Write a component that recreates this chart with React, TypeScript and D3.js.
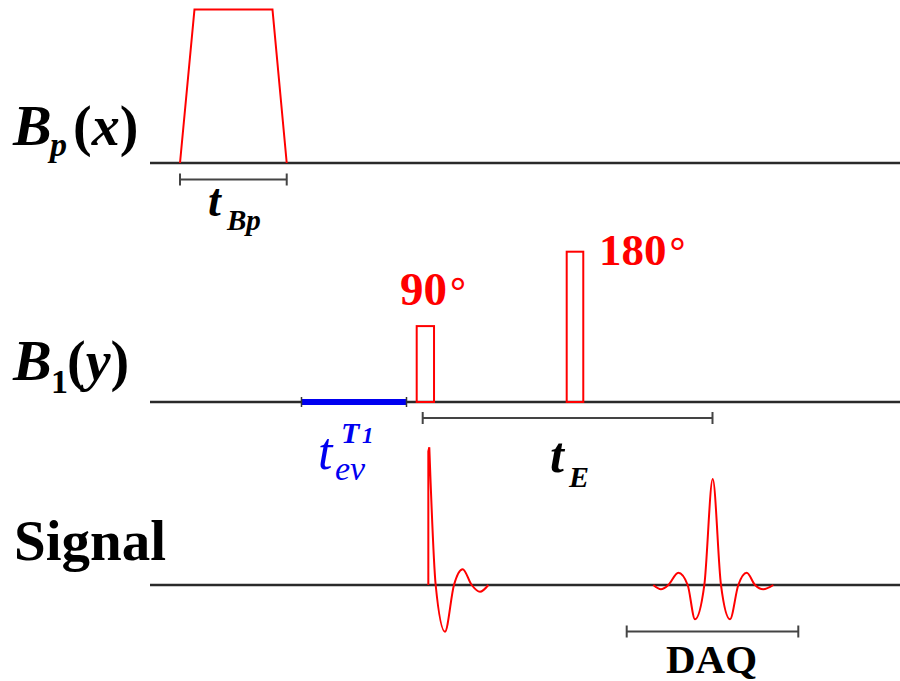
import React from "react";
import * as d3 from "d3";

// ---- data (time in arbitrary units, amplitudes normalised) ----
const channels = ["Bp(x)", "B1(y)", "Signal"];
// polarising field trapezoid: [time, amplitude]
const bpPulse: [number, number][] = [
  [4.0, 0],
  [5.93, 1],
  [16.33, 1],
  [18.23, 0],
];
// RF pulses: start, end, amplitude
const rfPulses = [
  { label: "90", t0: 35.56, t1: 37.87, amp: 0.505 },
  { label: "180", t0: 55.56, t1: 57.77, amp: 1.0 },
];
// evolution interval (blue)
const evolution: [number, number] = [20.2, 34.2];
// FID after the 90 pulse
const fidStart = 37.11;
const fid: [number, number][] = [
  [37.24, 1.0],
  [38.09, 0],
  [39.33, -0.339],
  [40.53, 0],
  [41.69, 0.114],
  [42.89, 0],
  [44.0, -0.049],
  [45.11, 0],
];
// spin echo
const echo: [number, number][] = [
  [67.11, 0],
  [68.13, -0.031],
  [69.11, 0],
  [70.44, 0.089],
  [71.69, 0],
  [72.67, -0.249],
  [73.91, 0],
  [75.03, 0.77],
  [76.13, 0],
  [77.33, -0.249],
  [78.44, 0],
  [79.56, 0.089],
  [80.67, 0],
  [81.77, -0.031],
  [83.11, 0],
];
// interval brackets
const tBpInterval: [number, number] = [4.0, 18.23];
const tEInterval: [number, number] = [36.36, 75.0];
const daqInterval: [number, number] = [63.56, 86.44];

const W = 900;
const H = 681;
const serif = '"Liberation Serif", "Times New Roman", Times, serif';
const RED = "#ff0000";
const BLUE = "#0000f0";

export default function App() {
  const x = d3.scaleLinear().domain([0, 100]).range([150, 900]);
  const yBp = d3.scaleLinear().domain([0, 1]).range([163, 9.5]);
  const yB1 = d3.scaleLinear().domain([0, 1]).range([402, 251.7]);
  const ySig = d3.scaleLinear().domain([0, 1]).range([585, 447.3]);

  const bpLine = d3
    .line<[number, number]>()
    .x((d) => x(d[0]))
    .y((d) => yBp(d[1]));

  const sigLine = d3
    .line<[number, number]>()
    .x((d) => x(d[0]))
    .y((d) => ySig(d[1]))
    .curve(d3.curveMonotoneX);

  const fidPath =
    `M${x(fidStart)},${ySig(0)}L${x(fidStart)},${ySig(0.97)}` +
    (sigLine(fid) || "").replace(/^M/, "L");

  const bracket = (t: [number, number], y: number, key: string) => (
    <g key={key} stroke="#444" strokeWidth={2} fill="none">
      <line x1={x(t[0])} x2={x(t[1])} y1={y} y2={y} />
      <line x1={x(t[0])} x2={x(t[0])} y1={y - 6} y2={y + 6} />
      <line x1={x(t[1])} x2={x(t[1])} y1={y - 6} y2={y + 6} />
    </g>
  );

  const baselines = [yBp(0), yB1(0), ySig(0)];

  return (
    <svg
      width={W}
      height={H}
      style={{ position: "absolute", left: 0, top: 0, background: "#fff", fontFamily: serif }}
    >
      <rect width={W} height={H} fill="#fff" />
      {/* baselines */}
      {baselines.map((b, i) => (
        <line
          key={channels[i]}
          x1={x(0)}
          x2={x(100)}
          y1={b}
          y2={b}
          stroke="#2a2a2a"
          strokeWidth={2.6}
        />
      ))}

      {/* Bp trapezoid */}
      <path d={bpLine(bpPulse) || ""} fill="none" stroke={RED} strokeWidth={2} />

      {/* RF pulses */}
      {rfPulses.map((p) => (
        <rect
          key={p.label}
          x={x(p.t0)}
          y={yB1(p.amp)}
          width={x(p.t1) - x(p.t0)}
          height={yB1(0) - yB1(p.amp)}
          fill="none"
          stroke={RED}
          strokeWidth={2}
        />
      ))}

      {/* evolution bar */}
      <line
        x1={x(evolution[0])}
        x2={x(evolution[1])}
        y1={yB1(0)}
        y2={yB1(0)}
        stroke={BLUE}
        strokeWidth={6}
      />
      <g stroke="#333" strokeWidth={1.5}>
        <line x1={x(evolution[0])} x2={x(evolution[0])} y1={yB1(0) - 5} y2={yB1(0) + 5} />
        <line x1={x(evolution[1])} x2={x(evolution[1])} y1={yB1(0) - 5} y2={yB1(0) + 5} />
      </g>

      {/* signals */}
      <path d={fidPath} fill="none" stroke={RED} strokeWidth={2} />
      <path d={sigLine(echo) || ""} fill="none" stroke={RED} strokeWidth={2} />

      {/* brackets */}
      {bracket(tBpInterval, 179.5, "tbp")}
      {bracket(tEInterval, 418, "te")}
      {bracket(daqInterval, 631.5, "daq")}

      {/* channel labels */}
      <text fontWeight="bold" fontStyle="italic" fill="#000">
        <tspan x={13} y={145} fontSize={58}>B</tspan>
        <tspan x={50} y={156} fontSize={34}>p</tspan>
        <tspan x={73} y={145} fontSize={56} fontStyle="normal">(</tspan>
        <tspan fontSize={56}>x</tspan>
        <tspan fontSize={56} fontStyle="normal">)</tspan>
      </text>
      <text fontWeight="bold" fontStyle="italic" fill="#000">
        <tspan x={13} y={380} fontSize={58}>B</tspan>
        <tspan x={51} y={393} fontSize={34} fontStyle="normal">1</tspan>
        <tspan x={67} y={380} fontSize={56} fontStyle="normal">(</tspan>
        <tspan fontSize={56}>y</tspan>
        <tspan fontSize={56} fontStyle="normal">)</tspan>
      </text>
      <text x={14} y={560} fontWeight="bold" fontSize={57} fill="#000">
        Signal
      </text>

      {/* pulse labels */}
      <text x={400} y={305} fontWeight="bold" fontSize={47} fill={RED}>
        90<tspan dx={3} fontSize={40}>°</tspan>
      </text>
      <text x={599} y={265} fontWeight="bold" fontSize={45} fill={RED}>
        180<tspan dx={3} fontSize={40}>°</tspan>
      </text>

      {/* interval labels */}
      <text fontWeight="bold" fontStyle="italic" fill="#000">
        <tspan x={208} y={216} fontSize={46}>t</tspan>
        <tspan x={227} y={230} fontSize={29}>Bp</tspan>
      </text>
      <text fontWeight="bold" fontStyle="italic" fill="#000">
        <tspan x={550} y={472} fontSize={50}>t</tspan>
        <tspan x={569} y={487} fontSize={30}>E</tspan>
      </text>
      <text fontStyle="italic" fill={BLUE}>
        <tspan x={318} y={469} fontSize={52}>t</tspan>
        <tspan x={341} y={443} fontSize={30} fontWeight="bold">T</tspan>
        <tspan x={362} y={443} fontSize={23} fontWeight="bold">1</tspan>
        <tspan x={335} y={480} fontSize={34}>ev</tspan>
      </text>
      <text x={666} y={673} fontWeight="bold" fontSize={41} fill="#000">
        DAQ
      </text>
    </svg>
  );
}
